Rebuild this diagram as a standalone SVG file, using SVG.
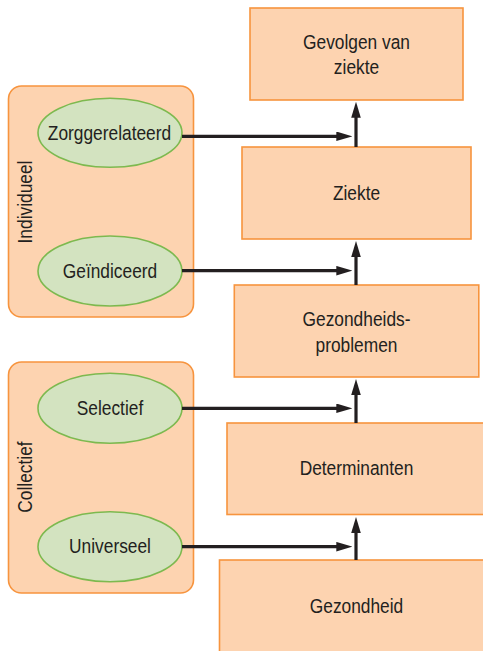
<svg xmlns="http://www.w3.org/2000/svg" width="483" height="651" viewBox="0 0 483 651">
<defs>
<style>
.box{fill:#FDD3B0;stroke:#F7943E;stroke-width:1.6}
.panel{fill:#FDD3B0;stroke:#F7943E;stroke-width:1.6}
.ell{fill:#D3E3C0;stroke:#7DB94F;stroke-width:1.6}
text{font-family:"Liberation Sans",Arial,sans-serif;font-size:19.5px;fill:#231F20;text-anchor:middle}
.con{stroke:#231F20;stroke-width:3.2;fill:none;marker-end:url(#ah)}
</style>
<marker id="ah" markerUnits="userSpaceOnUse" markerWidth="16" markerHeight="10" refX="6" refY="4.8" orient="auto">
<path d="M0,0 L16,4.8 L0,9.6 z" fill="#231F20"/>
</marker>
</defs>
<rect width="483" height="651" fill="#ffffff"/>
<g id="panel-individueel">
<rect class="panel" x="8.5" y="86" width="185" height="231" rx="13"/>
<text transform="translate(31.5,202) rotate(-90) scale(0.89,1)">Individueel</text>
</g>
<g id="panel-collectief">
<rect class="panel" x="8.5" y="362" width="185" height="231" rx="13"/>
<text transform="translate(31.5,477) rotate(-90) scale(0.89,1)">Collectief</text>
</g>
<g id="zorggerelateerd">
<ellipse class="ell" cx="110" cy="132.8" rx="72" ry="34.5"/>
<text transform="translate(109.5,139.5) scale(0.89,1)">Zorggerelateerd</text>
</g>
<g id="geindiceerd">
<ellipse class="ell" cx="110" cy="271" rx="72" ry="35"/>
<text transform="translate(110,277.8) scale(0.89,1)">Geïndiceerd</text>
</g>
<g id="selectief">
<ellipse class="ell" cx="110" cy="408.3" rx="72" ry="35"/>
<text transform="translate(110,415) scale(0.89,1)">Selectief</text>
</g>
<g id="universeel">
<ellipse class="ell" cx="110" cy="546.7" rx="72" ry="35"/>
<text transform="translate(110,553.4) scale(0.89,1)">Universeel</text>
</g>
<g id="gevolgen">
<rect class="box" x="250" y="8" width="213" height="92"/>
<text transform="translate(356.5,48.5) scale(0.89,1)">Gevolgen van</text>
<text transform="translate(356.5,73.5) scale(0.89,1)">ziekte</text>
</g>
<g id="ziekte">
<rect class="box" x="242" y="147" width="229" height="92"/>
<text transform="translate(356.5,200) scale(0.89,1)">Ziekte</text>
</g>
<g id="gezondheidsproblemen">
<rect class="box" x="234.3" y="285" width="244.5" height="92"/>
<text transform="translate(356.5,325.5) scale(0.89,1)">Gezondheids-</text>
<text transform="translate(356.5,351.5) scale(0.89,1)">problemen</text>
</g>
<g id="determinanten">
<rect class="box" x="227" y="423" width="259" height="91.5"/>
<text transform="translate(356.5,475) scale(0.89,1)">Determinanten</text>
</g>
<g id="gezondheid">
<rect class="box" x="219.5" y="560" width="275" height="100"/>
<text transform="translate(356.5,612.7) scale(0.89,1)">Gezondheid</text>
</g>
<g id="connectors">
<line class="con" x1="182" y1="136.3" x2="342.3" y2="136.3"/>
<line class="con" x1="356" y1="147" x2="356" y2="111.7"/>
<line class="con" x1="182" y1="270.7" x2="342.3" y2="270.7"/>
<line class="con" x1="356" y1="285" x2="356" y2="251"/>
<line class="con" x1="182" y1="408.3" x2="342.3" y2="408.3"/>
<line class="con" x1="356" y1="423" x2="356" y2="389"/>
<line class="con" x1="182" y1="546.7" x2="342.3" y2="546.7"/>
<line class="con" x1="356" y1="560" x2="356" y2="527"/>
</g>
</svg>
